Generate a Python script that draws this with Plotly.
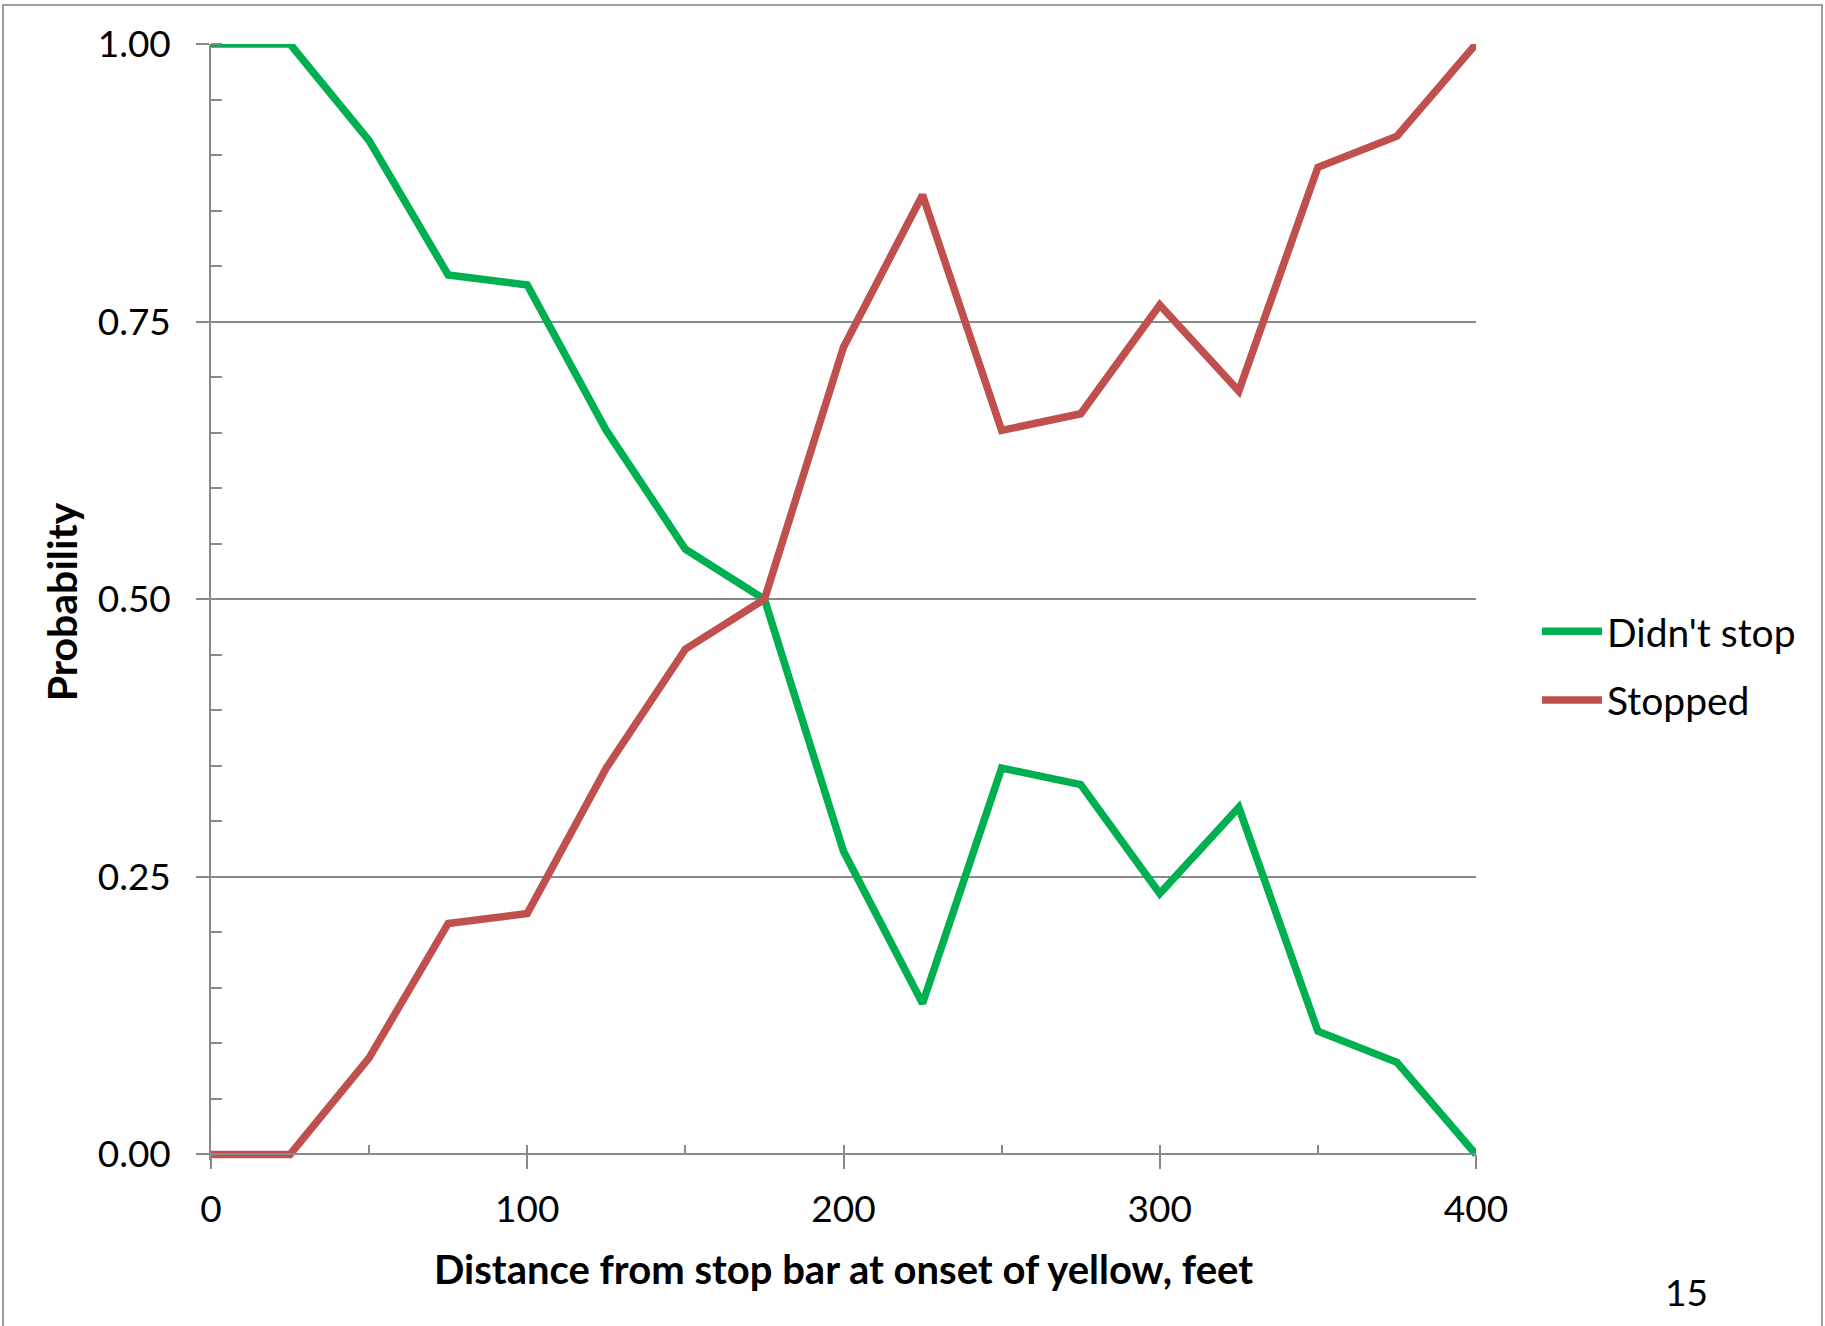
import plotly.graph_objects as go

# Distance from stop bar at onset of yellow (feet)
distance_ft = [0, 25, 50, 75, 100, 125, 150, 175, 200, 225, 250, 275, 300, 325, 350, 375, 400]

# Share of drivers that did not stop / stopped at each distance
didnt_stop = [1.0, 1.0, 0.913, 0.792, 0.783, 0.652, 0.545, 0.5, 0.273, 0.136,
              0.348, 0.333, 0.235, 0.3125, 0.111, 0.083, 0.0]
stopped = [0.0, 0.0, 0.087, 0.208, 0.217, 0.348, 0.455, 0.5, 0.727, 0.864,
           0.652, 0.667, 0.765, 0.6875, 0.889, 0.917, 1.0]

y_tick_vals = [0, 0.25, 0.5, 0.75, 1.0]
x_tick_vals = [0, 100, 200, 300, 400]

GREEN = "#00B050"
RED = "#C0504D"
GRAY = "#898989"
FONT = "Lato"
FS = 37

W, H = 1825, 1326
ML, MR, MT, MB = 211, 349, 44, 166
PW, PH = W - ML - MR, H - MT - MB
Y_LO = -0.005
x_axis_pos = (0 - Y_LO) / (1 - Y_LO)


def px_x(x):
    return (x - ML) / PW


def px_y(y):
    return (H - MB - y) / PH


fig = go.Figure()
fig.add_trace(go.Scatter(
    x=distance_ft, y=didnt_stop, name="Didn't stop", mode="lines",
    line=dict(color=GREEN, width=7.5), legendgroup="a",
    xaxis="x", yaxis="y",
))
fig.add_trace(go.Scatter(
    x=distance_ft, y=stopped, name="Stopped", mode="lines",
    line=dict(color=RED, width=7.5), legendgroup="b",
    xaxis="x2", yaxis="y",
))

fig.update_layout(
    width=W, height=H,
    margin=dict(l=ML, r=MR, t=MT, b=MB, pad=0),
    paper_bgcolor="white", plot_bgcolor="white",
    font=dict(family=FONT, size=FS, color="black"),
    showlegend=True,
    legend=dict(
        x=px_x(1537), y=px_y(666), xanchor="left", yanchor="middle",
        font=dict(family=FONT, size=39, color="black"),
        bgcolor="rgba(0,0,0,0)", borderwidth=0,
        tracegroupgap=15, itemwidth=60,
    ),
    xaxis=dict(
        range=[0, 400], tickvals=x_tick_vals,
        ticks="outside", ticklen=14, tickwidth=1.5, tickcolor=GRAY,
        showline=True, linecolor=GRAY, linewidth=1.5,
        showgrid=False, zeroline=False,
        anchor="free", position=x_axis_pos,
        ticklabelstandoff=8,
        tickfont=dict(family=FONT, size=FS),
        title=dict(text="<b>Distance from stop bar at onset of yellow, feet</b>",
                   font=dict(family=FONT, size=40), standoff=26),
    ),
    xaxis2=dict(
        matches="x", overlaying="x", anchor="free", position=x_axis_pos,
        side="bottom", tick0=0, dtick=50,
        ticks="inside", ticklen=9, tickwidth=1.5, tickcolor=GRAY,
        showticklabels=False, showgrid=False, showline=False, zeroline=False,
    ),
    yaxis=dict(
        range=[Y_LO, 1.0], tickvals=y_tick_vals, tickformat=".2f",
        ticks="outside", ticklen=13, tickwidth=1.5, tickcolor=GRAY,
        showline=True, linecolor=GRAY, linewidth=1.5,
        showgrid=True, gridcolor=GRAY, gridwidth=1.5, zeroline=False,
        minor=dict(tick0=0, dtick=0.05, ticks="inside", ticklen=11,
                   tickwidth=1.5, tickcolor=GRAY, showgrid=False),
        ticklabelstandoff=18,
        tickfont=dict(family=FONT, size=FS),
        title=dict(text="<b>Probability</b>",
                   font=dict(family=FONT, size=41), standoff=7),
    ),
)

# Slide frame around the chart
fig.add_shape(type="rect", xref="paper", yref="paper",
              x0=px_x(3), x1=px_x(1822), y0=px_y(1340), y1=px_y(5),
              line=dict(color="#9c9c9c", width=2), fillcolor="rgba(0,0,0,0)",
              layer="below")

# Page number
fig.add_annotation(text="15", xref="paper", yref="paper",
                   x=px_x(1686.5), y=px_y(1291), xanchor="center", yanchor="middle",
                   showarrow=False, font=dict(family=FONT, size=FS, color="black"))

fig.write_html("out.html")
